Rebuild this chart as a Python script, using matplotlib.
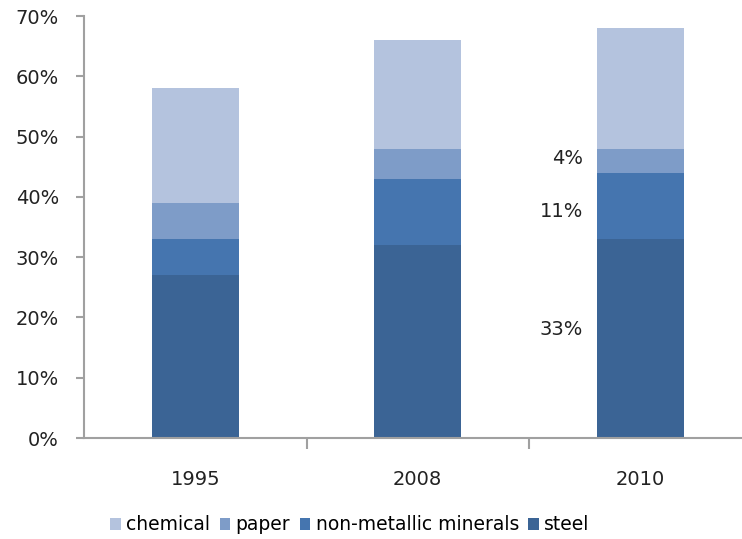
import numpy as np
import matplotlib
matplotlib.use('Agg')
import matplotlib.pyplot as plt
from matplotlib.ticker import MultipleLocator, FuncFormatter

years = ['1995', '2008', '2010']
steel = [27, 32, 33]
minerals = [6, 11, 11]
paper = [6, 5, 4]
chemical = [19, 18, 20]
# labels next to the 2010 bar: (text, y position in %)
notes = [('4%', 46.3), ('11%', 37.5), ('33%', 18.0)]

colors = {'steel': '#3B6495', 'minerals': '#4575AF', 'paper': '#7E9CC8', 'chemical': '#B4C3DE'}

fig = plt.figure(figsize=(7.42, 5.39), dpi=100)
ax = fig.add_axes([84 / 742, 101 / 539, 1.0, 422 / 539])

x = np.arange(len(years))
w = 0.39
b1 = np.array(steel)
b2 = b1 + np.array(minerals)
b3 = b2 + np.array(paper)
h_steel = ax.bar(x, steel, w, color=colors['steel'], label='steel')
h_min = ax.bar(x, minerals, w, bottom=b1, color=colors['minerals'], label='non-metallic minerals')
h_pap = ax.bar(x, paper, w, bottom=b2, color=colors['paper'], label='paper')
h_chem = ax.bar(x, chemical, w, bottom=b3, color=colors['chemical'], label='chemical')

for txt, yv in notes:
    ax.text(1.742, yv, txt, ha='right', va='center', fontsize=14, color='#222222')

ax.set_xlim(-0.5, -0.5 + 742 / 222.5)
ax.set_ylim(0, 70)
ax.yaxis.set_major_locator(MultipleLocator(10))
ax.yaxis.set_major_formatter(FuncFormatter(lambda v, p: '%d%%' % v))
ax.set_xticks(x)
ax.set_xticklabels(years)
ax.set_xticks([0.5, 1.5], minor=True)
ax.tick_params(axis='x', which='major', length=0, pad=23, labelsize=14, labelcolor='#222222')
ax.tick_params(axis='x', which='minor', length=8, width=1.5, color='#A0A0A0')
ax.tick_params(axis='y', length=6, width=1.5, color='#A0A0A0', labelsize=14, labelcolor='#222222', pad=12)
for s in ['top', 'right']:
    ax.spines[s].set_visible(False)
for s in ['left', 'bottom']:
    ax.spines[s].set_color('#A0A0A0')
    ax.spines[s].set_linewidth(1.5)

fig.legend([h_chem, h_pap, h_min, h_steel],
           ['chemical', 'paper', 'non-metallic minerals', 'steel'],
           loc='center', bbox_to_anchor=(350 / 742, 1 - 525 / 539), ncol=4, frameon=False,
           fontsize=13.5, handlelength=0.55, handleheight=0.55, handletextpad=0.3, columnspacing=0.5)

fig.savefig('out.png', dpi=100)
